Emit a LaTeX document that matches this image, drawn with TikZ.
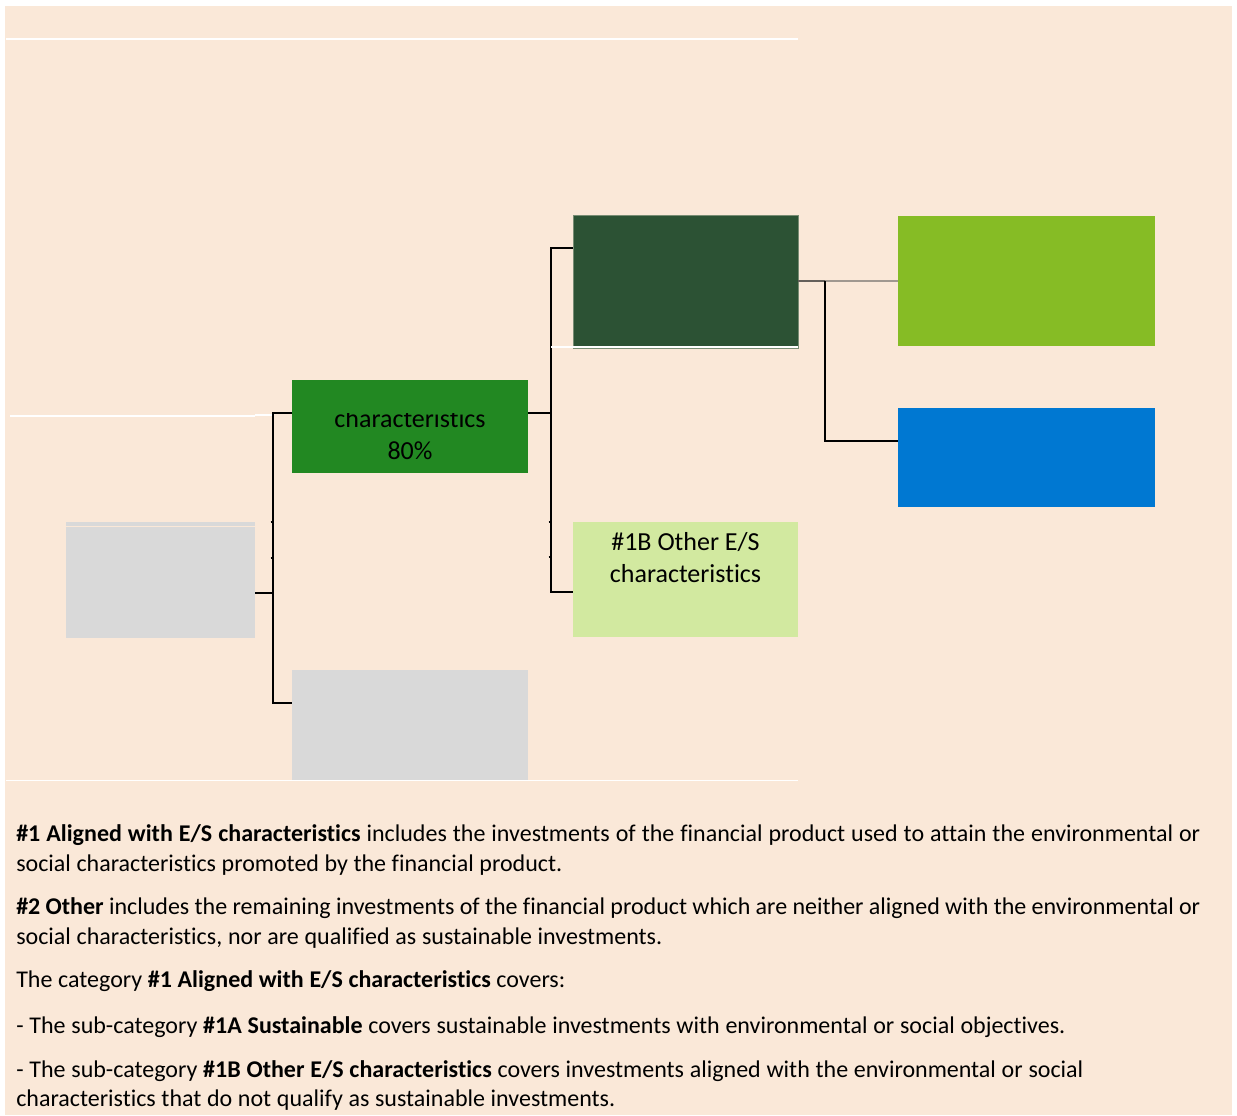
\documentclass[tikz,border=0pt]{standalone}
\usepackage{fontspec}
\setmainfont{Carlito}[Ligatures={NoCommon,NoRequired,NoContextual,NoRare}]
\usetikzlibrary{calc}
\definecolor{peach}{RGB}{250,232,216}
\definecolor{boxgray}{RGB}{217,217,217}
\definecolor{forest}{RGB}{34,136,34}
\definecolor{darkgreen}{RGB}{44,82,52}
\definecolor{limegreen}{RGB}{134,188,37}
\definecolor{boxblue}{RGB}{0,120,210}
\definecolor{palegreen}{RGB}{210,233,160}
\definecolor{linegrey}{RGB}{160,152,144}
\tikzset{
  box/.style={rectangle, inner sep=0pt, outer sep=0pt, draw=none},
  conn/.style={draw=black, line width=1.1pt},
  tick/.style={draw=black, line width=1.5pt},
  whiteline/.style={draw=white, line width=1pt},
  bodytext/.style={anchor=base west, inner sep=0pt, font=\fontsize{18}{22.5}\selectfont},
  boxtext/.style={inner sep=0pt, align=center, font=\fontsize{19.5}{24}\selectfont},
}
\newcommand{\fitline}[2]{\makebox[#1pt][s]{#2}}
\begin{document}
\begin{tikzpicture}[x=0.75pt, y=-0.75pt]
\useasboundingbox (0,0) rectangle (1237,1115);
\fill[white] (0,0) rectangle (1237,1115);
\fill[peach] (5,6) rectangle (1232,1115);
% white rules across the diagram area
\draw[whiteline] (6,39) -- (798,39);
\draw[draw=white, line width=2.2pt] (10,416) -- (255,416);
\draw[draw=white, line width=1.2pt] (255,415) -- (272,415);
\draw[draw=white, line width=1.1pt] (6,780.5) -- (798,780.5);

% boxes
\fill[boxgray] (66,522) rectangle (255,525.5);
\node[box, fill=boxgray, minimum width=141.75pt, minimum height=83.25pt] (gray1) at (160.5,582.5) {};
\node[box, fill=forest, minimum width=177pt, minimum height=69.75pt] (aligned) at (410,426.5) {};
\node[box, fill=boxgray, minimum width=177pt, minimum height=82.5pt] (other) at (410,724.8) {};
\node[box, fill=darkgreen, draw={rgb,255:red,120;green,140;blue,115}, line width=0.6pt, minimum width=168.75pt, minimum height=99.75pt] (sust) at (685.5,281.5) {};
\node[box, fill=limegreen, minimum width=192.75pt, minimum height=97.5pt] (taxo) at (1026.5,281) {};
\node[box, fill=boxblue, minimum width=192.75pt, minimum height=74.25pt] (blue) at (1026.5,457.5) {};
\node[box, fill=palegreen, minimum width=168.75pt, minimum height=86.25pt] (ochar) at (685.5,579.5) {};

% clipped text of the aligned box
\begin{scope}
  \clip (292,413) rectangle (528,473);
  \node[boxtext] (alignedtext) at (410,435) {characteristics\\80\%};
\end{scope}
\node[boxtext] (ochartext) at (685.5,557.5) {\#1B Other E/S\\characteristics};

% connectors
\coordinate (t1top) at (273,413);
\coordinate (t1mid) at (273,593);
\coordinate (t1bot) at (273,703);
\draw[conn] (gray1.east |- t1mid) -- (t1mid);
\draw[conn] (aligned.west |- t1top) -- (t1top) -- (t1bot) -- (other.west |- t1bot);
\draw[tick] (270.5,522) -- (273,522);
\draw[tick] (270.5,558) -- (273,558);

\coordinate (t2top) at (551,248);
\coordinate (t2mid) at (551,413);
\coordinate (t2bot) at (551,592);
\draw[conn] (aligned.east |- t2mid) -- (t2mid);
\draw[conn] (sust.west |- t2top) -- (t2top) -- (t2bot) -- (ochar.west |- t2bot);
\draw[tick] (548.5,522) -- (551,522);
\draw[tick] (548.5,557) -- (551,557);
\draw[whiteline] (551,347) -- (sust.south east |- 0,347);

\coordinate (t3top) at (825,281);
\coordinate (t3bot) at (825,441);
\draw[draw=linegrey, line width=1pt] (t3top) -- (taxo.west |- t3top);
\draw[draw={rgb,255:red,100;green,95;blue,90}, line width=1.1pt] (sust.east |- t3top) -- (t3top);
\draw[conn] (t3top) -- (t3bot) -- (blue.west |- t3bot);

% explanatory text
\node[bodytext] (l1) at (16,841) {\fitline{888}{\textbf{\#1 Aligned with E/S characteristics} includes the investments of the financial product used to attain the environmental or}};
\node[bodytext] (l2) at (16,871) {\fitline{409.5}{social characteristics promoted by the financial product.}};
\node[bodytext] (l3) at (16,914) {\fitline{888}{\textbf{\#2 Other} includes the remaining investments of the financial product which are neither aligned with the environmental or}};
\node[bodytext] (l4) at (16,944) {\fitline{484.5}{social characteristics, nor are qualified as sustainable investments.}};
\node[bodytext] (l5) at (16,987) {\fitline{411.75}{The category \textbf{\#1 Aligned with E/S characteristics} covers:}};
\node[bodytext] (l6) at (16,1033) {\fitline{786.75}{- The sub-category \textbf{\#1A Sustainable} covers sustainable investments with environmental or social objectives.}};
\node[bodytext] (l7) at (16,1077) {\fitline{800.25}{- The sub-category \textbf{\#1B Other E/S characteristics} covers investments aligned with the environmental or social}};
\node[bodytext] (l8) at (16,1106) {\fitline{449.25}{characteristics that do not qualify as sustainable investments.}};
\end{tikzpicture}
\end{document}
